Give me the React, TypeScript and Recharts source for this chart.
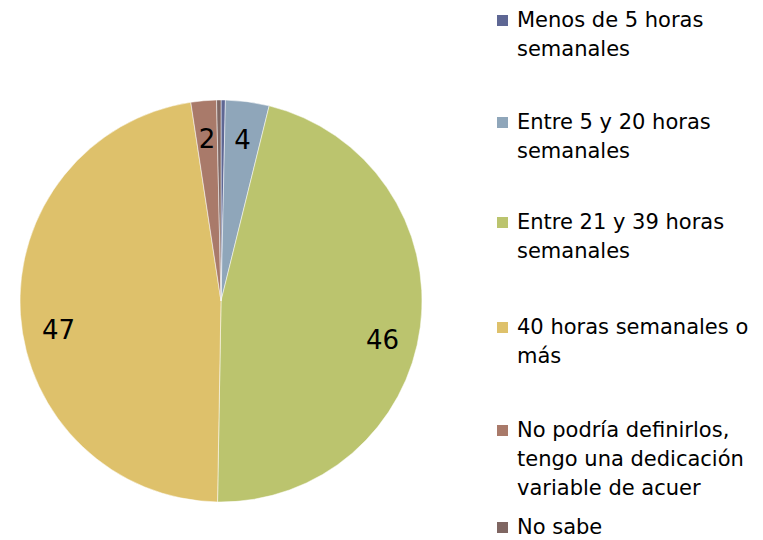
import { PieChart, Pie, Cell, Legend } from 'recharts'

const categories = [
  'Menos de 5 horas semanales',
  'Entre 5 y 20 horas semanales',
  'Entre 21 y 39 horas semanales',
  '40 horas semanales o más',
  'No podría definirlos, tengo una dedicación variable de acuer',
  'No sabe',
]
const legendLines = [
  ['Menos de 5 horas', 'semanales'],
  ['Entre 5 y 20 horas', 'semanales'],
  ['Entre 21 y 39 horas', 'semanales'],
  ['40 horas semanales o', 'más'],
  ['No podría definirlos,', 'tengo una dedicación', 'variable de acuer'],
  ['No sabe'],
]
const values = [0.35, 3.5, 46.4, 47.3, 2.05, 0.35]
const colors = ['#5e6794', '#8fa6ba', '#bbc46e', '#dec16b', '#a97a6a', '#7f6662']

const data = categories.map((name, i) => ({ name, value: values[i] }))

const RAD = Math.PI / 180
const font = '"DejaVu Sans", sans-serif'

function renderLabel(props: any) {
  const { cx, cy, midAngle, outerRadius, value } = props
  if (value < 1) return null
  const r = outerRadius * 0.81
  const x = cx + r * Math.cos(-midAngle * RAD)
  // big slices get their labels pushed a bit lower, like the original
  const y = cy + r * Math.sin(-midAngle * RAD) + (value > 10 ? 18 : 0)
  return (
    <text x={x} y={y} fill="#000" fontSize={26} fontFamily={font} textAnchor="middle" dominantBaseline="central">
      {Math.round(value)}
    </text>
  )
}

const itemTops = [6, 108, 208, 313, 416, 513]

function renderLegend() {
  return (
    <div style={{ position: 'relative', width: 266, height: 540, fontFamily: font, fontSize: 21, color: '#000' }}>
      {legendLines.map((lines, i) => (
        <div key={i} style={{ position: 'absolute', left: 0, top: itemTops[i], lineHeight: '29px' }}>
          <span style={{ position: 'absolute', left: 0, top: 9, width: 11, height: 11, background: colors[i] }} />
          <div style={{ marginLeft: 20, whiteSpace: 'nowrap' }}>
            {lines.map((l, j) => <div key={j}>{l}</div>)}
          </div>
        </div>
      ))}
    </div>
  )
}

export default function App() {
  return (
    <div style={{ position: 'absolute', left: 0, top: 0, width: 763, height: 540, background: '#fff' }}>
      <PieChart width={763} height={540} margin={{ top: 0, right: 0, bottom: 0, left: 0 }}>
        <Pie
          data={data}
          dataKey="value"
          cx={221}
          cy={301}
          outerRadius={201}
          startAngle={90}
          endAngle={-270}
          stroke="#ffffff"
          strokeWidth={0.5}
          label={renderLabel}
          labelLine={false}
          isAnimationActive={false}
        >
          {data.map((_, i) => <Cell key={i} fill={colors[i]} />)}
        </Pie>
        <Legend
          content={renderLegend}
          wrapperStyle={{ position: 'absolute', left: 497, top: 0, width: 266, height: 540 }}
        />
      </PieChart>
    </div>
  )
}
